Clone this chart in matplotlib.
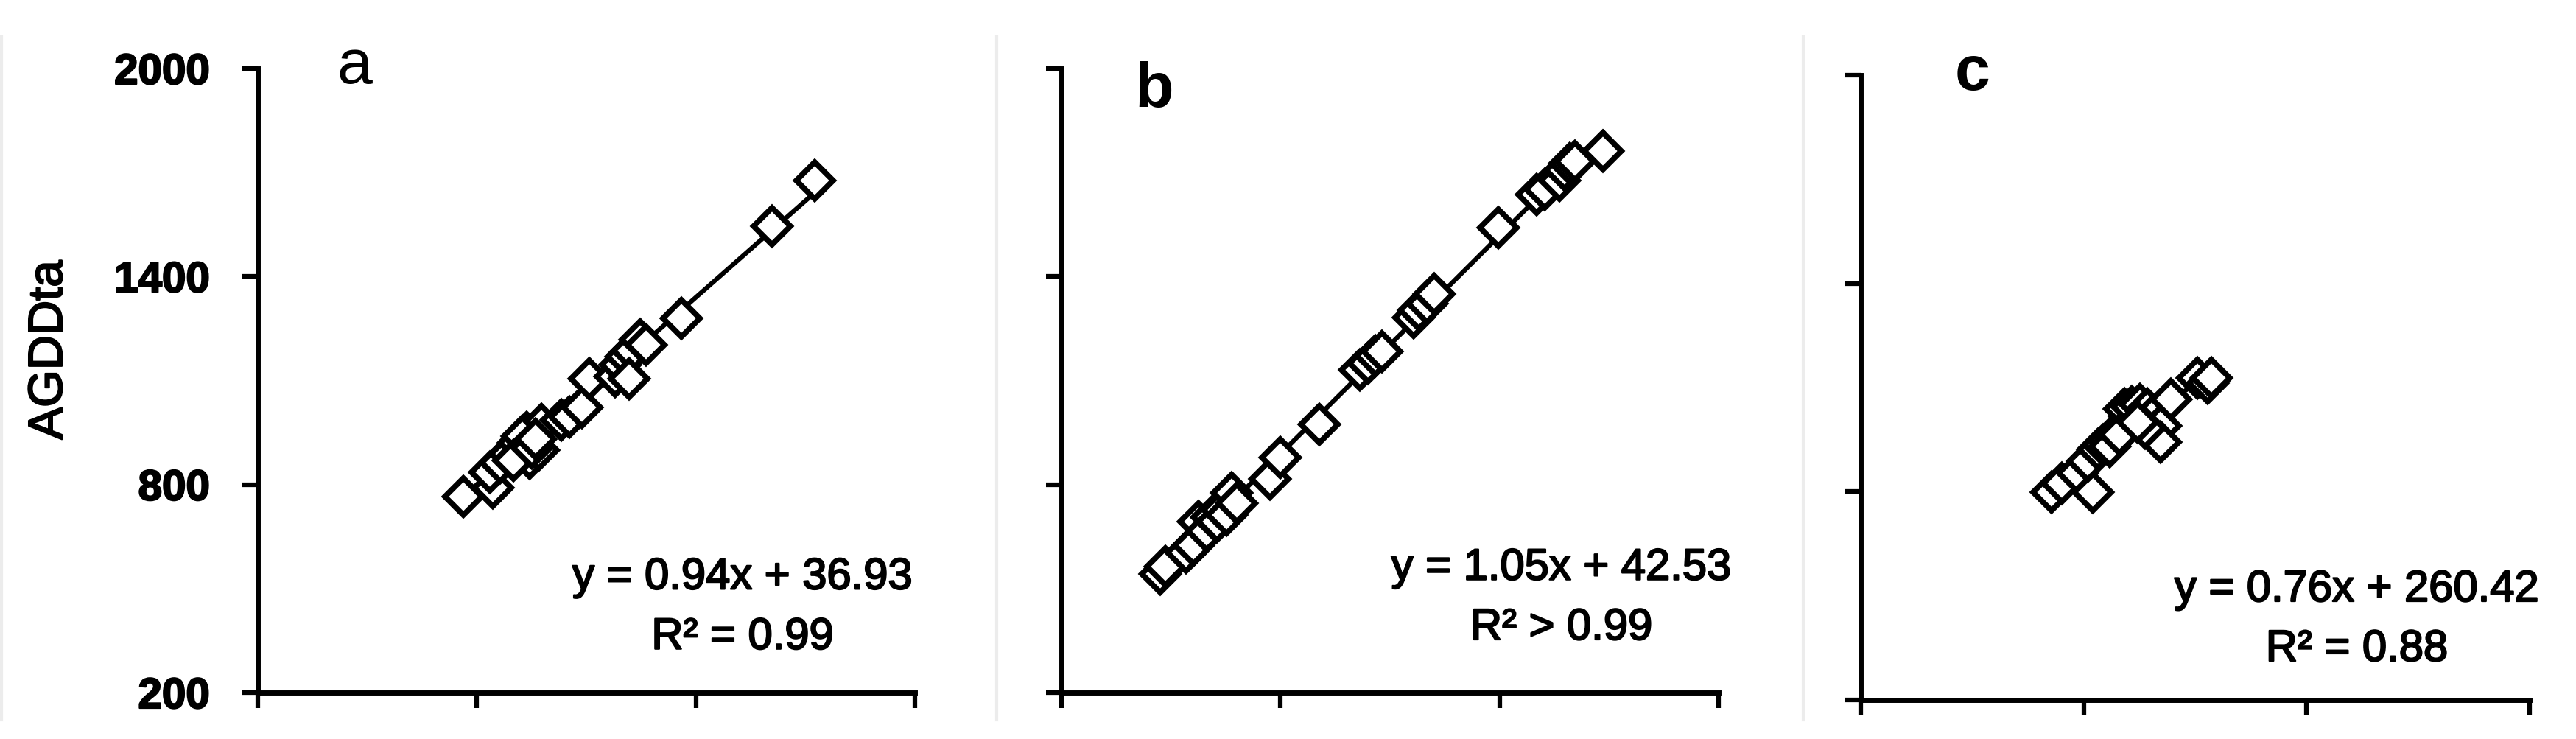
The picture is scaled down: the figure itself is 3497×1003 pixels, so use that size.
import numpy as np
import matplotlib
matplotlib.use("Agg")
import matplotlib.pyplot as plt
import matplotlib.patheffects as pe
from matplotlib.lines import Line2D

plt.rcParams["font.family"] = ["Liberation Sans", "DejaVu Sans"]

# ---------------------------------------------------------
# Data
# ---------------------------------------------------------
a_x = [763, 844, 836, 864, 890, 914, 937, 945, 968, 977, 925, 1031, 1054,
       1088, 1108, 1179, 1193, 1209, 1225, 1248, 1263, 1217, 1360, 1609, 1725,
       900, 950, 960]
a_y = [765, 791, 835, 863, 889, 920, 950, 876, 899, 974, 940, 986, 995,
       1022, 1105, 1112, 1146, 1169, 1186, 1218, 1203, 1105, 1280, 1545, 1677,
       870, 905, 930]

b_x = [471, 485, 541, 562, 576, 597, 611, 625, 639, 653, 667, 681, 772, 800,
       906, 1018, 1039, 1060, 1077, 1165, 1179, 1200, 1221, 1397, 1502, 1523,
       1565, 1579, 1593, 1607, 1684]
b_y = [542, 563, 604, 624, 693, 665, 706, 693, 727, 713, 775, 747, 816, 877,
       973, 1131, 1151, 1172, 1185, 1281, 1302, 1322, 1350, 1541, 1637, 1651,
       1678, 1706, 1726, 1733, 1763]

c_x = [713, 741, 783, 825, 811, 839, 853, 867, 881, 909, 923, 937, 909, 930,
       951, 972, 986, 1007, 1007, 965, 1035, 1105, 1133, 1144, 870, 895, 945]
c_y = [798, 825, 853, 798, 887, 921, 935, 948, 962, 990, 1017, 1031, 1038,
       1045, 1052, 1038, 1017, 990, 942, 983, 1066, 1127, 1113, 1127, 930,
       965, 1000]

panel_labels = ["a", "b", "c"]
equations = ["y = 0.94x + 36.93", "y = 1.05x + 42.53", "y = 0.76x + 260.42"]
r2_labels = ["R\u00b2 = 0.99", "R\u00b2 > 0.99", "R\u00b2 = 0.88"]
ticks = [200, 800, 1400, 2000]
y_label = "AGDDta"

# ---------------------------------------------------------
# Layout
# ---------------------------------------------------------
W, H = 3497, 1004
fig = plt.figure(figsize=(W / 100, H / 100), dpi=100)

# axes rectangles in pixels: left, top, right, bottom
rects = [(350, 94, 1242, 941), (1441, 94, 2333, 941), (2526, 103, 3434, 951)]
label_pos = [(0.147, 0.978), (0.141, 0.940), (0.167, 0.978)]
label_weight = ["normal", "bold", "bold"]
text_pos = [(0.738, 0.166, 0.070), (0.761, 0.181, 0.085), (0.742, 0.158, 0.0625)]

data = [(a_x, a_y), (b_x, b_y), (c_x, c_y)]
heavy = [pe.withStroke(linewidth=1.6, foreground="black")]

for i, ((l, t, r, b), (x, y)) in enumerate(zip(rects, data)):
    ax = fig.add_axes([l / W, 1 - b / H, (r - l) / W, (b - t) / H])
    ax.set_xlim(200, 2000)
    ax.set_ylim(200, 2000)
    ax.set_xticks([200, 800, 1400, 2000])
    ax.set_yticks(ticks)
    ax.set_xticklabels([])
    if i == 0:
        ax.set_yticklabels([str(v) for v in ticks], fontsize=42, fontweight="bold")
        for lab in ax.get_yticklabels():
            lab.set_path_effects(heavy)
    else:
        ax.set_yticklabels([])
    for side in ["top", "right"]:
        ax.spines[side].set_visible(False)
    for side in ["left", "bottom"]:
        ax.spines[side].set_linewidth(5)
    ax.tick_params(axis="both", direction="out", length=15, width=4.5, pad=32)

    # trendline
    fit = np.polyfit(x, y, 1)
    xs = np.array([min(x), max(x)])
    ax.plot(xs, np.polyval(fit, xs), color="black", lw=4.5, zorder=2)

    # open diamonds
    ax.plot(x, y, linestyle="none", marker="D", markersize=25,
            markerfacecolor="white", markeredgecolor="black",
            markeredgewidth=5.5, zorder=3, clip_on=False)

    lx, ly = label_pos[i]
    ax.text(lx, ly, panel_labels[i], transform=ax.transAxes, fontsize=62,
            fontweight=label_weight[i], ha="center", va="baseline")

    tx, ty1, ty2 = text_pos[i]
    ax.text(tx, ty1, equations[i], transform=ax.transAxes, fontsize=43,
            ha="center", va="baseline", path_effects=heavy)
    ax.text(tx, ty2, r2_labels[i], transform=ax.transAxes, fontsize=43,
            ha="center", va="baseline", path_effects=heavy)

fig.text(67 / W, 1 - 476 / H, y_label, rotation=90, fontsize=47,
         ha="center", va="center", path_effects=heavy)

# faint panel dividers
for xp in [1.5, 1353, 2448]:
    fig.add_artist(Line2D([xp / W, xp / W], [1 - 978 / H, 1 - 51 / H],
                          color="#ececec", lw=3))

fig.savefig("out.png", dpi=100)
